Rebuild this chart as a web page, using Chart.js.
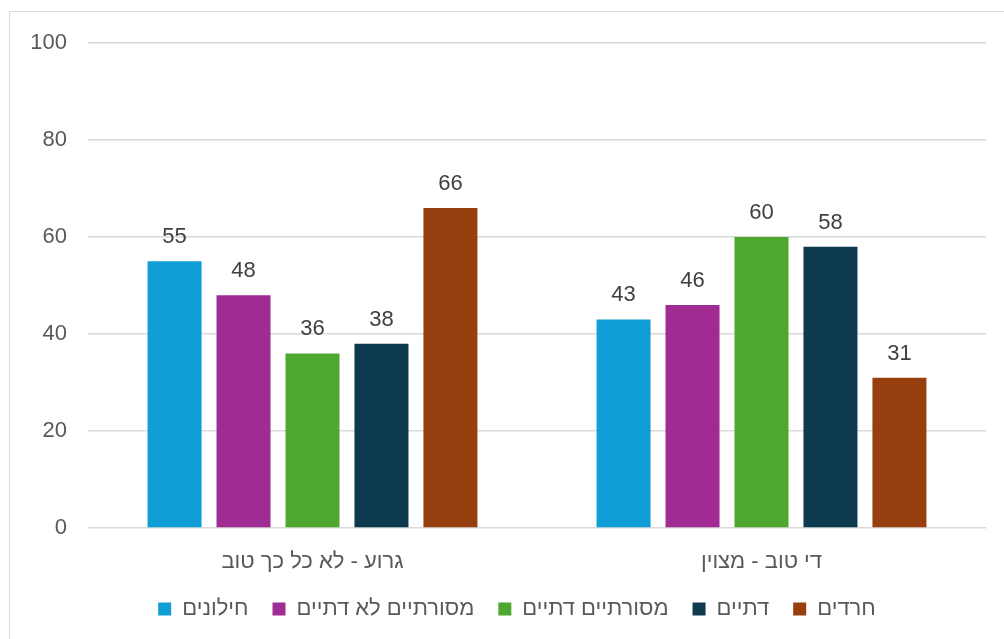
<!DOCTYPE html>
<html>
<head>
<meta charset="utf-8">
<script src="https://cdn.jsdelivr.net/npm/chart.js@4/dist/chart.umd.min.js"></script>
<style>
html,body{margin:0;padding:0;background:#fff;overflow:hidden;}
#frame{position:absolute;left:9px;top:11px;width:1100px;height:700px;border:1.5px solid #d9d9d9;box-sizing:border-box;}
#wrap{position:absolute;left:0;top:0;width:1004px;height:639px;}
</style>
</head>
<body>
<div id="frame"></div>
<div id="wrap"><canvas id="c"></canvas></div>
<script>
const categories = ["גרוע - לא כל כך טוב", "די טוב - מצוין"];
const seriesNames = ["חילונים", "מסורתיים לא דתיים", "מסורתיים דתיים", "דתיים", "חרדים"];
const secular = [55, 43];
const traditionalNonReligious = [48, 46];
const traditionalReligious = [36, 60];
const religious = [38, 58];
const haredi = [66, 31];
const yTicks = [0, 20, 40, 60, 80, 100];
const colors = ["#0F9ED5", "#A02B93", "#4EA72E", "#0E3A50", "#973F0F"];

const seriesValues = [secular, traditionalNonReligious, traditionalReligious, religious, haredi];
const FONT = "'Liberation Sans', Arial, sans-serif";
const FS = 22;

const valueLabels = {
  id: 'valueLabels',
  afterLayout(chart) {
    if (chart.legend) { chart.legend.left += 24; chart.legend.right += 24; }
  },
  afterDatasetsDraw(chart) {
    const ctx = chart.ctx;
    ctx.save();
    ctx.font = FS + "px " + FONT;
    ctx.fillStyle = "#404040";
    ctx.textAlign = "center";
    ctx.textBaseline = "alphabetic";
    chart.data.datasets.forEach((ds, i) => {
      chart.getDatasetMeta(i).data.forEach((bar, j) => {
        ctx.fillText(String(ds.data[j]), bar.x, bar.y - 18);
      });
    });
    ctx.restore();
  }
};

new Chart(document.getElementById('c'), {
  type: 'bar',
  data: {
    labels: categories,
    datasets: seriesNames.map((n, i) => ({
      label: n,
      data: seriesValues[i],
      backgroundColor: colors[i],
      borderWidth: 0,
      categoryPercentage: 0.768,
      barPercentage: 0.783
    }))
  },
  options: {
    responsive: true,
    maintainAspectRatio: false,
    animation: false,
    layout: { padding: { left: 0, right: 18, top: 43, bottom: 9 } },
    plugins: {
      legend: {
        position: 'bottom',
        labels: {
          font: { size: FS, family: FONT },
          color: '#595959',
          boxWidth: 13,
          boxHeight: 13,
          padding: 24
        }
      },
      tooltip: { enabled: false }
    },
    scales: {
      x: {
        grid: { display: false },
        border: { display: false },
        ticks: { font: { size: FS, family: FONT }, color: '#595959', padding: 13 },
        afterFit(s) { s.height = 46; }
      },
      y: {
        min: 0, max: 100,
        afterBuildTicks(s) { s.ticks = yTicks.map(v => ({ value: v })); },
        grid: { color: '#d9d9d9', lineWidth: 1.5, drawTicks: false },
        border: { display: false },
        ticks: { font: { size: FS, family: FONT }, color: '#595959', padding: 21 },
        afterFit(s) { s.width = 88; }
      }
    }
  },
  plugins: [valueLabels]
});
</script>
</body>
</html>
